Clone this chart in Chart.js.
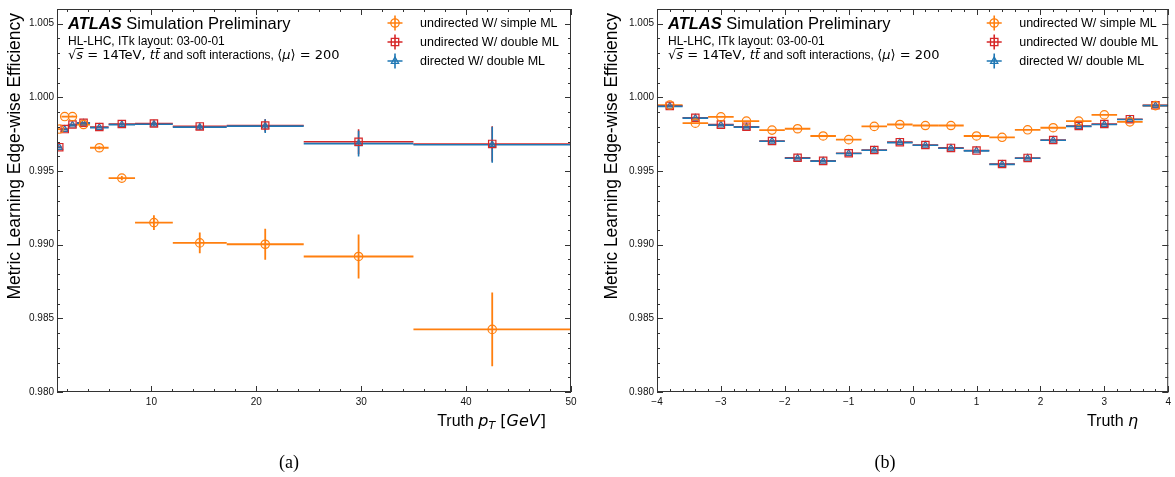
<!DOCTYPE html>
<html>
<head>
<meta charset="utf-8">
<script src="https://cdn.jsdelivr.net/npm/chart.js@4.4.1/dist/chart.umd.min.js"></script>
<style>
  html, body { margin: 0; padding: 0; background: #fff; }
  #wrap { position: relative; width: 1175px; height: 477px; overflow: hidden; }
  canvas { position: absolute; top: 0; }
  #cL { left: 0; }
  #cR { left: 587px; }
  .cap { position: absolute; top: 450px; width: 60px; text-align: center; font: 18px "Liberation Serif", serif; line-height: 24px; color: #000; }
</style>
</head>
<body>
<div id="wrap">
  <canvas id="cL" width="587" height="477"></canvas>
  <canvas id="cR" width="588" height="477"></canvas>
  <div class="cap" style="left:259px">(a)</div>
  <div class="cap" style="left:855px">(b)</div>
</div>
<script>
// ---- data: pT panel ----
const ptEdges = [1, 1.43, 2.04, 2.91, 4.15, 5.92, 8.44, 12.04, 17.18, 24.52, 34.98, 50];
const ptSimple = [0.99785, 0.9987, 0.9987, 0.99816, 0.99658, 0.99452, 0.9915, 0.99012, 0.99003, 0.9892, 0.98425];
const ptSimpleErr = [0.00006, 0.00006, 0.00007, 0.00008, 0.0001, 0.00015, 0.0005, 0.0007, 0.00105, 0.0015, 0.0025];
const ptDouble = [0.99662, 0.99785, 0.99816, 0.99828, 0.99799, 0.99819, 0.99823, 0.99803, 0.99809, 0.99699, 0.99684];
const ptDoubleErr = [0.00004, 0.00004, 0.00004, 0.00005, 0.00006, 0.00008, 0.0001, 0.00018, 0.00042, 0.00085, 0.0012];
const ptDirected = [0.9966, 0.99782, 0.99812, 0.99825, 0.99795, 0.99815, 0.99818, 0.99798, 0.99805, 0.99686, 0.99678];
const ptDirectedErr = [0.00004, 0.00004, 0.00004, 0.00005, 0.00006, 0.00008, 0.00012, 0.0002, 0.00047, 0.00088, 0.00122];
const ptTicks = [10, 20, 30, 40, 50];

// ---- data: eta panel ----
const etaEdges = [-4, -3.6, -3.2, -2.8, -2.4, -2, -1.6, -1.2, -0.8, -0.4, 0, 0.4, 0.8, 1.2, 1.6, 2, 2.4, 2.8, 3.2, 3.6, 4];
const etaSimple = [0.99948, 0.99825, 0.99868, 0.99839, 0.99778, 0.99787, 0.99738, 0.99713, 0.99803, 0.99816, 0.99809, 0.99809, 0.99738, 0.99729, 0.9978, 0.99794, 0.99839, 0.99881, 0.99834, 0.99944];
const etaDouble = [0.99942, 0.99862, 0.99815, 0.99801, 0.99704, 0.9959, 0.99569, 0.99621, 0.99643, 0.99696, 0.99677, 0.99657, 0.99639, 0.99548, 0.99589, 0.99711, 0.99806, 0.99819, 0.99852, 0.99946];
const etaDirected = [0.99939, 0.99859, 0.99812, 0.99798, 0.99702, 0.99587, 0.99567, 0.99619, 0.99641, 0.99693, 0.99675, 0.99655, 0.99637, 0.99545, 0.99587, 0.99709, 0.99803, 0.99816, 0.9985, 0.99944];
const etaErr = [0.00006, 0.00006, 0.00006, 0.00006, 0.00006, 0.00006, 0.00006, 0.00006, 0.00006, 0.00006, 0.00006, 0.00006, 0.00006, 0.00006, 0.00006, 0.00006, 0.00006, 0.00006, 0.00006, 0.00006];
const etaTicks = [-4, -3, -2, -1, 0, 1, 2, 3, 4];

const yTicks = [0.980, 0.985, 0.990, 0.995, 1.000, 1.005];
const seriesLabels = ['undirected W/ simple ML', 'undirected W/ double ML', 'directed W/ double ML'];

const ORANGE = '#ff7f0e', RED = '#d62728', BLUE = '#1f77b4';

Chart.defaults.font.family = '"Liberation Sans", Arial, sans-serif';

function points(edges, vals, errs) {
  return vals.map((v, i) => ({ x: (edges[i] + edges[i + 1]) / 2, y: v, lo: edges[i], hi: edges[i + 1], e: errs[i] }));
}

// horizontal bin-width bar + vertical error bar for every point
const errorBars = {
  id: 'errorBars',
  beforeDatasetsDraw(chart) {
    const { ctx, chartArea: a, scales: { x, y } } = chart;
    ctx.save();
    ctx.beginPath();
    ctx.rect(a.left, a.top, a.width, a.height);
    ctx.clip();
    chart.data.datasets.forEach(ds => {
      ctx.strokeStyle = ds.borderColor;
      ctx.lineWidth = ds.errWidth;
      ds.data.forEach(p => {
        const py = y.getPixelForValue(p.y);
        const px = x.getPixelForValue(p.x);
        ctx.beginPath();
        ctx.moveTo(x.getPixelForValue(p.lo), py);
        ctx.lineTo(x.getPixelForValue(p.hi), py);
        ctx.moveTo(px, y.getPixelForValue(p.y - p.e));
        ctx.lineTo(px, y.getPixelForValue(p.y + p.e));
        ctx.stroke();
      });
    });
    ctx.restore();
  }
};

function drawRuns(ctx, x, y, runs, align) {
  let w = 0;
  runs.forEach(r => { ctx.font = r.f; w += ctx.measureText(r.t).width; });
  let cx = align === 'right' ? x - w : x;
  runs.forEach(r => {
    ctx.font = r.f;
    const rw = ctx.measureText(r.t).width;
    ctx.fillText(r.t, cx, y + (r.dy || 0));
    if (r.over) ctx.fillRect(cx + (r.ox || 0), y - r.over, rw - (r.ox || 0) + 0.5, 1);
    cx += rw;
  });
}

function marker(ctx, style, cx, cy, color) {
  ctx.strokeStyle = color;
  ctx.lineWidth = 1.3;
  ctx.beginPath();
  if (style === 'circle') ctx.arc(cx, cy, 4.2, 0, Math.PI * 2);
  else if (style === 'rect') ctx.rect(cx - 3.7, cy - 3.7, 7.4, 7.4);
  else { ctx.moveTo(cx, cy - 4); ctx.lineTo(cx + 3.6, cy + 2.3); ctx.lineTo(cx - 3.6, cy + 2.3); ctx.closePath(); }
  ctx.stroke();
}

// frame, inward ticks, labels, legend, axis titles
const decor = {
  id: 'decor',
  afterDraw(chart, args, o) {
    const { ctx, chartArea: a, scales: { x, y } } = chart;
    ctx.save();
    ctx.strokeStyle = '#333';
    ctx.lineWidth = 1;
    ctx.strokeRect(a.left + 0.5, a.top + 0.5, a.width - 1, a.height - 1);
    ctx.beginPath();
    const xt = (v, len) => {
      const px = Math.round(x.getPixelForValue(v)) + 0.5;
      ctx.moveTo(px, a.bottom); ctx.lineTo(px, a.bottom - len);
      ctx.moveTo(px, a.top); ctx.lineTo(px, a.top + len);
    };
    const yt = (v, len) => {
      const py = Math.round(y.getPixelForValue(v)) + 0.5;
      ctx.moveTo(a.left, py); ctx.lineTo(a.left + len, py);
      ctx.moveTo(a.right, py); ctx.lineTo(a.right - len, py);
    };
    for (let v = Math.ceil(x.min / o.xMinor - 1e-9) * o.xMinor; v <= x.max + 1e-9; v += o.xMinor) xt(v, 3);
    o.xMajor.forEach(v => xt(v, 6));
    for (let k = 980; k <= 1006; k++) yt(k / 1000, 3);
    yTicks.forEach(v => yt(v, 6));
    ctx.stroke();

    ctx.fillStyle = '#000';
    ctx.textBaseline = 'alphabetic';
    const tx = a.left + 11;
    drawRuns(ctx, tx, 29, [
      { t: 'ATLAS', f: 'italic bold 16.5px "Liberation Sans"' },
      { t: ' Simulation Preliminary', f: '16.5px "Liberation Sans"' }
    ]);
    drawRuns(ctx, tx, 45, [{ t: 'HL-LHC, ITk layout: 03-00-01', f: '12px "Liberation Sans"' }]);
    drawRuns(ctx, tx, 59, [
      { t: '\u221A', f: '13px "DejaVu Sans"' },
      { t: 's', f: 'italic 13px "DejaVu Sans"', over: 11 },
      { t: ' = 14TeV, ', f: '13px "DejaVu Sans"' },
      { t: 't', f: 'italic 13px "DejaVu Sans"' },
      { t: 't', f: 'italic 13px "DejaVu Sans"', over: 11, ox: 1.5 },
      { t: ' and soft interactions, ', f: '12px "Liberation Sans"' },
      { t: '\u27E8', f: '13px "DejaVu Sans"' },
      { t: '\u03BC', f: 'italic 13px "DejaVu Sans"' },
      { t: '\u27E9 = 200', f: '13px "DejaVu Sans"' }
    ]);

    // legend
    chart.data.datasets.forEach((ds, i) => {
      const cx = a.right - o.legendDx, cy = 23 + 19 * i;
      ctx.strokeStyle = ds.borderColor;
      ctx.lineWidth = 1.6;
      ctx.beginPath();
      ctx.moveTo(cx - 7.5, cy); ctx.lineTo(cx + 7.5, cy);
      ctx.moveTo(cx, cy - 7.5); ctx.lineTo(cx, cy + 7.5);
      ctx.stroke();
      marker(ctx, ds.pointStyle, cx, cy, ds.borderColor);
      ctx.fillStyle = '#000';
      ctx.font = '12.5px "Liberation Sans"';
      ctx.textBaseline = 'middle';
      ctx.fillText(ds.label, cx + 25, cy + 0.5);
    });

    // axis titles
    ctx.textBaseline = 'alphabetic';
    drawRuns(ctx, a.right - o.xTitleDx, 426, o.xTitle, 'right');
    ctx.save();
    ctx.translate(o.yTitleX, a.top + 4);
    ctx.rotate(-Math.PI / 2);
    ctx.textAlign = 'right';
    ctx.textBaseline = 'middle';
    ctx.font = '17.5px "Liberation Sans"';
    ctx.fillText('Metric Learning Edge-wise Efficiency', 0, 0);
    ctx.restore();
    ctx.restore();
  }
};

function makeChart(id, edges, s1, e1, s2, e2, s3, e3, xr, xMajor, xLabel, o) {
  return new Chart(document.getElementById(id), {
    type: 'scatter',
    data: {
      datasets: [
        { label: seriesLabels[0], data: points(edges, s1, e1), pointStyle: 'circle', pointRadius: 4.2, pointBorderWidth: 1.2,
          borderColor: ORANGE, backgroundColor: 'rgba(255,127,14,0.06)', errWidth: 1.8 },
        { label: seriesLabels[1], data: points(edges, s2, e2), pointStyle: 'rect', pointRadius: 5.2, pointBorderWidth: 1.2,
          borderColor: RED, backgroundColor: 'rgba(214,39,40,0.1)', errWidth: 1.6 },
        { label: seriesLabels[2], data: points(edges, s3, e3), pointStyle: 'triangle', pointRadius: 3.8, pointBorderWidth: 1.2,
          borderColor: BLUE, backgroundColor: 'rgba(31,119,180,0.15)', errWidth: 1.6 }
      ]
    },
    options: {
      responsive: false,
      animation: false,
      events: [],
      layout: { padding: { left: 0, top: 8, right: o.padRight, bottom: 0 }, autoPadding: false },
      plugins: { legend: { display: false }, tooltip: { enabled: false }, decor: o },
      scales: {
        x: {
          type: 'linear', min: xr[0], max: xr[1],
          grid: { display: false, drawTicks: false }, border: { display: false },
          afterBuildTicks: s => { s.ticks = xMajor.map(v => ({ value: v })); },
          afterFit: s => { s.height = 85; },
          ticks: { padding: 4, color: '#111', font: { size: 10 }, maxRotation: 0, autoSkip: false, callback: xLabel }
        },
        y: {
          min: 0.98, max: 1.006,
          grid: { display: false, drawTicks: false }, border: { display: false },
          afterBuildTicks: s => { s.ticks = yTicks.map(v => ({ value: v })); },
          afterFit: s => { s.width = o.yWidth; },
          ticks: { padding: 3, color: '#111', font: { size: 10 }, autoSkip: false, callback: v => v.toFixed(3) }
        }
      }
    },
    plugins: [errorBars, decor]
  });
}

makeChart('cL', ptEdges, ptSimple, ptSimpleErr, ptDouble, ptDoubleErr, ptDirected, ptDirectedErr,
  [1, 50], ptTicks, v => String(v), {
    padRight: 16, yWidth: 57, xMinor: 2, xMajor: ptTicks, legendDx: 176, xTitleDx: 25, yTitleX: 15,
    xTitle: [
      { t: 'Truth ', f: '16px "Liberation Sans"' },
      { t: 'p', f: 'italic 16px "DejaVu Sans"' },
      { t: 'T', f: 'italic 11px "DejaVu Sans"', dy: 3 },
      { t: ' [', f: '16px "DejaVu Sans"' },
      { t: 'GeV', f: 'italic 16px "DejaVu Sans"' },
      { t: ']', f: '16px "DejaVu Sans"' }
    ]
  });

makeChart('cR', etaEdges, etaSimple, etaErr, etaDouble, etaErr, etaDirected, etaErr,
  [-4, 4], etaTicks, v => (v < 0 ? '\u2212' + Math.abs(v) : String(v)), {
    padRight: 3, yWidth: 70, xMinor: 0.2, xMajor: etaTicks, legendDx: 174, xTitleDx: 30, yTitleX: 25,
    xTitle: [
      { t: 'Truth ', f: '16px "Liberation Sans"' },
      { t: '\u03B7', f: 'italic 16px "DejaVu Sans"' }
    ]
  });
</script>
</body>
</html>
